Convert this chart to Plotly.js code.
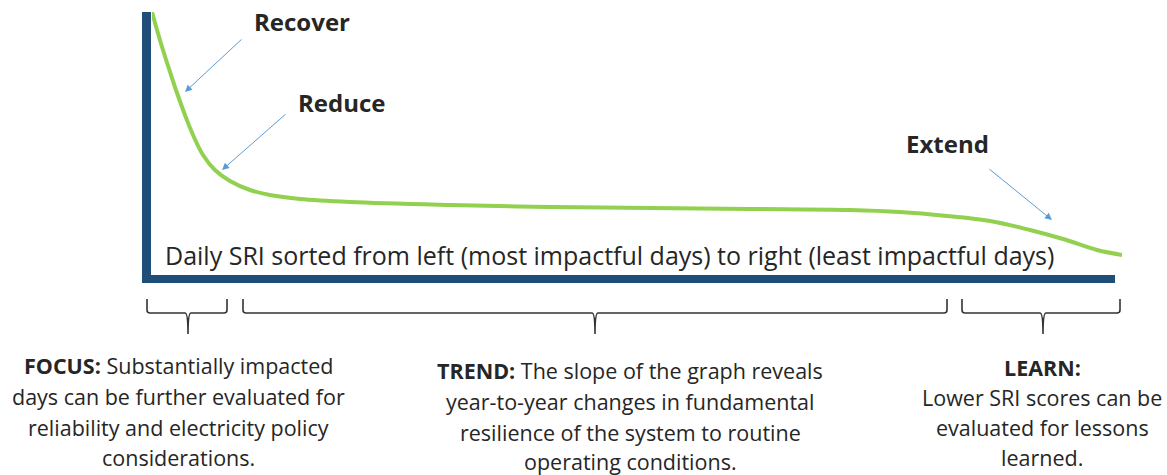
<!DOCTYPE html>
<html>
<head>
<meta charset="utf-8">
<script src="https://cdn.plot.ly/plotly-3.0.1.min.js"></script>
<style>html,body{margin:0;padding:0;background:#fff;}#chart{width:1167px;height:475px;}</style>
</head>
<body>
<div id="chart"></div>
<script>
// Share of days (sorted from most to least impactful), percent
const dayRank = [0, 0.52, 1.13, 1.86, 2.58, 3.40, 4.23, 5.26, 6.49, 8.04, 10.10, 12.16, 15.26, 20.41, 30.72, 41.03, 51.34, 61.65, 71.96, 77.11, 81.96, 86.39, 90.52, 93.92, 97.42, 100];
// Daily SRI (relative scale)
const sriValue = [100, 93.13, 85.5, 77.1, 69.08, 60.69, 53.05, 45.42, 39.69, 35.5, 32.06, 30.15, 28.63, 27.48, 26.34, 25.57, 25.19, 24.81, 24.43, 23.66, 22.14, 20.23, 16.79, 13.36, 9.16, 7.25];

const axisLabel = "Daily SRI sorted from left (most impactful days) to right (least impactful days)";
const stageLabels = ["Recover", "Reduce", "Extend"];
const focusLines = ["<b>FOCUS:</b> Substantially impacted", "days can be further evaluated for", "reliability and electricity policy", "considerations."];
const trendLines = ["<b>TREND:</b> The slope of the graph reveals", "year-to-year changes in fundamental", "resilience of the system to routine", "operating conditions."];
const learnLines = ["<b>LEARN:</b>", "Lower SRI scores can be", "evaluated for lessons", "learned."];

// layout helpers (pixel -> paper)
const L = 152, R = 1122, T = 12, B = 274;
const px = x => (x - L) / (R - L);
const py = y => (B - y) / (B - T);

const FONT = "'Open Sans', Lato, sans-serif";
const TXT = "#262626";
const BLUE = "#1f4e79";

const shapes = [
  {type: 'rect', xref: 'paper', yref: 'paper', x0: px(142), x1: px(151), y0: py(283), y1: py(12), fillcolor: BLUE, line: {width: 0}, layer: 'below'},
  {type: 'rect', xref: 'paper', yref: 'paper', x0: px(142), x1: px(1115), y0: py(283), y1: py(275), fillcolor: BLUE, line: {width: 0}, layer: 'below'}
];

function brace(x0, x1, xc) {
  const yt = py(299), ym = py(313), yk = py(310), yTip = py(334);
  const d = (a) => a.toFixed(5);
  const ex = 3 / (R - L);
  const path = `M${d(px(x0))},${d(yt)} L${d(px(x0))},${d(yk)} Q${d(px(x0))},${d(ym)} ${d(px(x0) + ex)},${d(ym)} ` +
    `L${d(px(xc) - ex)},${d(ym)} Q${d(px(xc))},${d(ym)} ${d(px(xc))},${d(yTip)} ` +
    `Q${d(px(xc))},${d(ym)} ${d(px(xc) + ex)},${d(ym)} L${d(px(x1) - ex)},${d(ym)} Q${d(px(x1))},${d(ym)} ${d(px(x1))},${d(yk)} L${d(px(x1))},${d(yt)}`;
  return {type: 'path', xref: 'paper', yref: 'paper', path: path, line: {color: '#333', width: 1.6}};
}
shapes.push(brace(147, 227, 188));
shapes.push(brace(243, 947, 595));
shapes.push(brace(962, 1120, 1043));

const annotations = [];
function txt(text, x, y, size, bold) {
  annotations.push({xref: 'paper', yref: 'paper', x: px(x), y: py(y), xanchor: 'center', yanchor: 'middle', borderpad: 0,
    text: bold ? '<b>' + text + '</b>' : text, showarrow: false, font: {family: FONT, size: size, color: TXT}});
}
txt(axisLabel, 609, 255, 25, false);
txt(stageLabels[0], 302, 22, 24, true);
txt(stageLabels[1], 342, 103, 24, true);
txt(stageLabels[2], 947, 143, 24, true);

function arrow(tx, ty, hx, hy) {
  annotations.push({xref: 'paper', yref: 'paper', axref: 'paper', ayref: 'paper', x: px(hx), y: py(hy), ax: px(tx), ay: py(ty),
    text: '', showarrow: true, arrowhead: 2, arrowsize: 1.4, arrowwidth: 1, arrowcolor: '#5b9bd5'});
}
arrow(243, 38, 185, 92);
arrow(287, 113, 222, 170);
arrow(988, 168, 1052, 220);

const fy = [365, 396, 427, 457], ty = [370, 401, 432, 461], ly = [367, 397, 427, 457];
focusLines.forEach((t, i) => txt(t, 178, fy[i], 21.5, false));
trendLines.forEach((t, i) => txt(t, 630, ty[i], 21.5, false));
learnLines.forEach((t, i) => txt(t, 1042, ly[i], 21.5, false));

const trace = {x: dayRank, y: sriValue, type: 'scatter', mode: 'lines',
  line: {color: '#92d050', width: 4, shape: 'spline', smoothing: 1}, hoverinfo: 'skip'};

const layout = {
  width: 1167, height: 475,
  margin: {l: L, r: 1167 - R, t: T, b: 475 - B, pad: 0},
  paper_bgcolor: '#fff', plot_bgcolor: 'rgba(0,0,0,0)',
  showlegend: false,
  xaxis: {range: [0, 100], visible: false, fixedrange: true},
  yaxis: {range: [0, 100], visible: false, fixedrange: true},
  shapes: shapes, annotations: annotations
};
Plotly.newPlot('chart', [trace], layout, {displayModeBar: false, staticPlot: true});
</script>
</body>
</html>
